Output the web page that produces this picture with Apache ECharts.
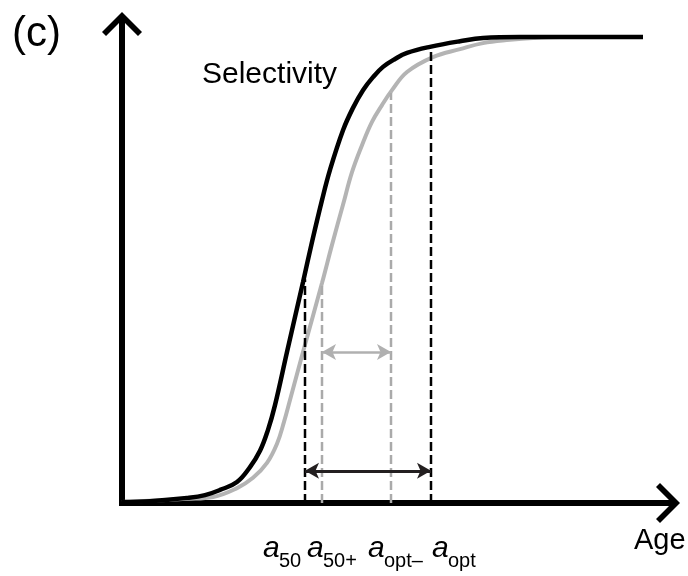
<!DOCTYPE html>
<html>
<head>
<meta charset="utf-8">
<script src="https://cdn.jsdelivr.net/npm/echarts@6/dist/echarts.min.js"></script>
<style>html,body{margin:0;padding:0;background:#fff;}#c{width:688px;height:576px;}</style>
</head>
<body>
<div id="c"></div>
<script>
// Black selectivity curve (age, selectivity)
const ageBlack = [0, 1.4, 3.25, 4.15, 4.9, 5.75, 6.4, 6.9, 7.3, 7.65, 8.25, 9.05, 9.5, 10, 10.4, 11.05, 11.55, 12.05, 12.55, 13.05, 13.65, 14.25, 15.4, 16.9, 18.05, 19.9, 26.05];
const selBlack = [0.002, 0.004, 0.011, 0.017, 0.028, 0.045, 0.077, 0.112, 0.157, 0.210, 0.324, 0.474, 0.560, 0.650, 0.715, 0.800, 0.848, 0.886, 0.914, 0.936, 0.953, 0.966, 0.979, 0.991, 0.998, 1, 1];
// Grey (shifted) selectivity curve
const ageGray = [0, 3.25, 4.55, 5.75, 6.55, 7.25, 7.75, 8.1, 8.4, 9.05, 10, 10.5, 11.05, 11.5, 12, 12.5, 13, 13.5, 14.25, 15.55, 16.9, 18.05, 19.4, 20.55, 21.9, 26.05];
const selGray = [0.002, 0.009, 0.013, 0.032, 0.054, 0.086, 0.127, 0.174, 0.221, 0.324, 0.472, 0.554, 0.640, 0.710, 0.768, 0.818, 0.854, 0.886, 0.925, 0.957, 0.974, 0.987, 0.994, 0.998, 1, 1];
// Reference ages: a50, a50+, aopt-, aopt
const markerNames = ['a50', 'a50+', 'aopt-', 'aopt'];
const markerAges = [9.15, 10.0, 13.45, 15.45];
const markerTops = [0.48, 0.47, 0.88, 0.98];
const markerBlack = [true, false, false, true];
// Double arrows: [fromAge, toAge, level]
const arrowBlack = [9.15, 15.45, 0.069];
const arrowGray = [10.0, 13.45, 0.324];
const axisMaxX = 27.3;
const axisMaxY = 1.028;

const zip = (a, b) => a.map((v, i) => [v, b[i]]);
const chevron = 'path://M20,0 L40,20 L36,24 L23,11 L23,24 L17,24 L17,11 L4,24 L0,20 Z';
const FONT = '"Liberation Sans", Arial, sans-serif';

const series = [];
series.push({
  type: 'line', data: zip(ageGray, selGray), showSymbol: false, symbol: 'none',
  smooth: 0.4, z: 3,
  lineStyle: { color: '#b4b4b4', width: 4 }
});
series.push({
  type: 'line', data: zip(ageBlack, selBlack), showSymbol: false, symbol: 'none',
  smooth: 0.4, z: 5,
  lineStyle: { color: '#000', width: 4.5 }
});
markerAges.forEach((a, i) => {
  series.push({
    type: 'line', data: [[a, 0], [a, markerTops[i]]], symbol: 'none', z: 4,
    lineStyle: { color: markerBlack[i] ? '#000' : '#aaaaaa', width: 2.5, type: [9, 4] }
  });
});
series.push({
  type: 'line', data: [], symbol: 'none', z: 6,
  markLine: {
    silent: true, symbol: ['arrow', 'arrow'], symbolSize: [12, 14], label: { show: false },
    animation: false,
    data: [
      [{ coord: [arrowBlack[0], arrowBlack[2]], lineStyle: { color: '#231f20', width: 3, type: 'solid' } },
       { coord: [arrowBlack[1], arrowBlack[2]] }],
      [{ coord: [arrowGray[0], arrowGray[2]], lineStyle: { color: '#b0b0b0', width: 2.5, type: 'solid' } },
       { coord: [arrowGray[1], arrowGray[2]] }]
    ]
  }
});

function txt(x, y, text, size, italic) {
  return {
    type: 'text', x: x, y: y, z: 100,
    style: {
      text: text, fill: '#000',
      font: (italic ? 'italic ' : '') + size + 'px ' + FONT,
      textAlign: 'left', textVerticalAlign: 'middle', align: 'left', verticalAlign: 'middle'
    }
  };
}

const option = {
  animation: false,
  backgroundColor: '#fff',
  grid: { left: 122, right: 20, top: 24, bottom: 73, containLabel: false },
  xAxis: {
    type: 'value', min: 0, max: axisMaxX,
    axisLine: { show: true, onZero: true, lineStyle: { color: '#000', width: 6, cap: 'square' },
      symbol: ['none', chevron], symbolSize: [40, 24] },
    axisTick: { show: false }, axisLabel: { show: false }, splitLine: { show: false }
  },
  yAxis: {
    type: 'value', min: 0, max: axisMaxY,
    axisLine: { show: true, onZero: true, lineStyle: { color: '#000', width: 6, cap: 'square' },
      symbol: ['none', chevron], symbolSize: [40, 24] },
    axisTick: { show: false }, axisLabel: { show: false }, splitLine: { show: false }
  },
  series: series,
  graphic: [
    txt(12, 34, '(c)', 42, false),
    txt(202, 75, 'Selectivity', 30, false),
    txt(634, 541, 'Age', 29, false),
    txt(263, 549, 'a', 30, true), txt(279, 561, '50', 20, false),
    txt(307, 549, 'a', 30, true), txt(323, 561, '50+', 20, false),
    txt(368, 549, 'a', 30, true), txt(384, 561, 'opt\u2013', 20, false),
    txt(432, 549, 'a', 30, true), txt(448, 561, 'opt', 20, false)
  ]
};
const chart = echarts.init(document.getElementById('c'), null, { renderer: 'canvas' });
chart.setOption(option);
</script>
</body>
</html>
